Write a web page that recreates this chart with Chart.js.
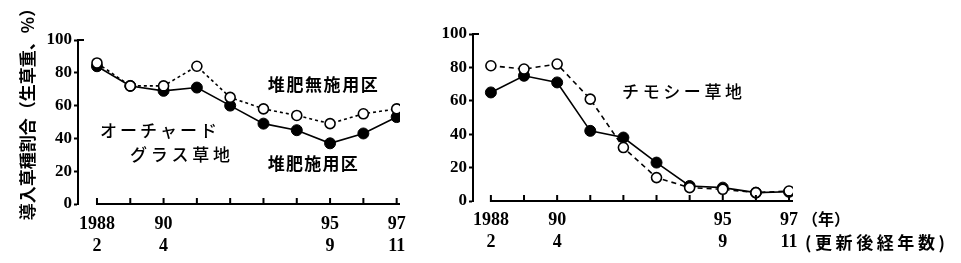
<!DOCTYPE html>
<html>
<head>
<meta charset="utf-8">
<script src="https://cdn.jsdelivr.net/npm/chart.js@4.4.1/dist/chart.umd.min.js"></script>
<style>
  html, body { margin: 0; padding: 0; background: #fff; }
  #wrap { position: relative; width: 961px; height: 263px; overflow: hidden; }
  .panel { position: absolute; top: 0; height: 263px; }
  #left { left: 0; width: 420px; }
  #right { left: 420px; width: 541px; }
</style>
</head>
<body>
<div id="wrap">
  <div class="panel" id="left"><canvas id="orchardChart" width="420" height="263"></canvas></div>
  <div class="panel" id="right"><canvas id="timothyChart" width="541" height="263"></canvas></div>
</div>
<script>
const years = [1988, 1989, 1990, 1991, 1992, 1993, 1994, 1995, 1996, 1997];
const yearTicks = ["1988", "", "90", "", "", "", "", "95", "", "97"];
const elapsedTicks = ["2", "", "4", "", "", "", "", "9", "", "11"];
const yTicks = [0, 20, 40, 60, 80, 100];

// orchardgrass field (left), timothy field (right)
const orchardNoCompost = [86, 72, 72, 84, 65, 58, 54, 49, 55, 58];
const orchardCompost = [84, 72, 69, 71, 60, 49, 45, 37, 43, 53];
const timothyNoCompost = [81, 79, 82, 61, 32, 14, 8, 7, 5, 6];
const timothyCompost = [65, 75, 71, 42, 38, 23, 9, 8, 5, 5.5];

const yTitle = "導入草種割合（生草重、%）";

const serif = "'Liberation Serif', 'DejaVu Serif', serif";
const jpFont = "'Noto Sans CJK JP', 'Noto Sans', sans-serif";

function toPoints(vals) {
  return years.map((yr, i) => ({ x: yr, y: vals[i] }));
}

function makeMarks(notes, title) {
  return {
    id: "axisMarks",
    afterDraw(chart) {
      const { ctx, chartArea } = chart;
      const x = chart.scales.x;
      const y = chart.scales.y;
      const base = y.getPixelForValue(0);
      ctx.save();
      ctx.strokeStyle = "#000";
      ctx.lineWidth = 2;
      ctx.beginPath();
      // x axis line starts at the first year, ticks point up
      ctx.moveTo(x.getPixelForValue(years[0]) - 1, base);
      ctx.lineTo(chartArea.right, base);
      years.forEach(v => {
        const px = x.getPixelForValue(v);
        ctx.moveTo(px, base);
        ctx.lineTo(px, base - 6);
      });
      const top = y.getPixelForValue(100);
      ctx.moveTo(chartArea.left, top);
      ctx.lineTo(chartArea.left + 6, top);
      ctx.stroke();

      ctx.fillStyle = "#000";
      ctx.textBaseline = "middle";
      ctx.textAlign = "left";
      const canSpace = "letterSpacing" in ctx;
      notes.forEach(n => {
        ctx.font = n.weight + " " + n.size + "px " + jpFont;
        if (canSpace) {
          ctx.letterSpacing = "0px";
          const w = ctx.measureText(n.text).width;
          const sp = n.width ? (n.width - w) / (n.text.length - 1) : 0;
          ctx.letterSpacing = Math.max(sp, 0) + "px";
        }
        const px = x.getPixelForValue(n.x);
        const py = n.below !== undefined ? base + n.below : y.getPixelForValue(n.y);
        ctx.fillText(n.text, px, py);
      });
      if (canSpace) ctx.letterSpacing = "0px";

      if (title) {
        ctx.font = "700 17px " + jpFont;
        ctx.textAlign = "center";
        ctx.translate(title.x, title.y);
        ctx.rotate(-Math.PI / 2);
        ctx.fillText(title.text, 0, 0);
      }
      ctx.restore();
    }
  };
}

function buildChart(canvasId, noComp, comp, cfg) {
  return new Chart(document.getElementById(canvasId), {
    type: "line",
    data: {
      datasets: [
        {
          label: "堆肥無施用区",
          data: toPoints(noComp),
          borderColor: "#000",
          borderWidth: 1.6,
          borderDash: cfg.dash,
          pointRadius: 5,
          pointBackgroundColor: "#fff",
          pointBorderColor: "#000",
          pointBorderWidth: 1.6,
          tension: 0
        },
        {
          label: "堆肥施用区",
          data: toPoints(comp),
          borderColor: "#000",
          borderWidth: 1.6,
          pointRadius: 5.5,
          pointBackgroundColor: "#000",
          pointBorderColor: "#000",
          pointBorderWidth: 1,
          tension: 0
        }
      ]
    },
    options: {
      responsive: false,
      animation: false,
      events: [],
      layout: { padding: { top: cfg.top, right: cfg.right, left: 0, bottom: 0 } },
      plugins: { legend: { display: false }, tooltip: { enabled: false } },
      scales: {
        x: {
          type: "linear",
          min: cfg.xMin,
          max: cfg.xMax,
          afterBuildTicks: s => { s.ticks = years.map(v => ({ value: v })); },
          afterFit: s => { s.height = cfg.xHeight; },
          grid: { display: false, drawTicks: false },
          border: { display: false },
          ticks: {
            autoSkip: false,
            maxRotation: 0,
            padding: cfg.xPad,
            color: "#000",
            font: { family: serif, weight: "bold", size: 18, lineHeight: 1.25 },
            callback: v => {
              const i = years.indexOf(v);
              return i < 0 ? "" : [yearTicks[i], elapsedTicks[i]];
            }
          }
        },
        y: {
          min: 0,
          max: 100,
          afterBuildTicks: s => { s.ticks = yTicks.map(v => ({ value: v })); },
          afterFit: s => { s.width = cfg.yWidth; },
          grid: { drawOnChartArea: false, drawTicks: true, tickLength: 4, tickWidth: 2, tickColor: "#000" },
          border: { display: true, color: "#000", width: 2 },
          ticks: { padding: 2, color: "#000", font: { family: serif, weight: "bold", size: 17 } }
        }
      }
    },
    plugins: [makeMarks(cfg.notes, cfg.title)]
  });
}

buildChart("orchardChart", orchardNoCompost, orchardCompost, {
  dash: [3, 3],
  top: 40, right: 20, xHeight: 59, yWidth: 78, xPad: 9,
  xMin: 1987.43, xMax: 1997.1,
  notes: [
    { text: "オーチャード", x: 1988.09, y: 44.5, width: 117, weight: 500, size: 17 },
    { text: "グラス草地", x: 1988.99, y: 30, width: 100, weight: 500, size: 17 },
    { text: "堆肥無施用区", x: 1993.13, y: 73, width: 110, weight: 700, size: 17 },
    { text: "堆肥施用区", x: 1993.13, y: 24.4, width: 90, weight: 700, size: 17 }
  ],
  title: { text: yTitle, x: 28, y: 110 }
});

buildChart("timothyChart", timothyNoCompost, timothyCompost, {
  dash: [5, 4],
  top: 34, right: 168, xHeight: 62, yWidth: 53, xPad: 8,
  xMin: 1987.46, xMax: 1997.12,
  notes: [
    { text: "チモシー草地", x: 1991.96, y: 65.3, width: 120, weight: 500, size: 17 },
    { text: "（年）", x: 1997.39, below: 18, width: 40, weight: 700, size: 16 },
    { text: "(更新後経年数)", x: 1997.48, below: 42, width: 140, weight: 700, size: 17 }
  ],
  title: null
});
</script>
</body>
</html>
